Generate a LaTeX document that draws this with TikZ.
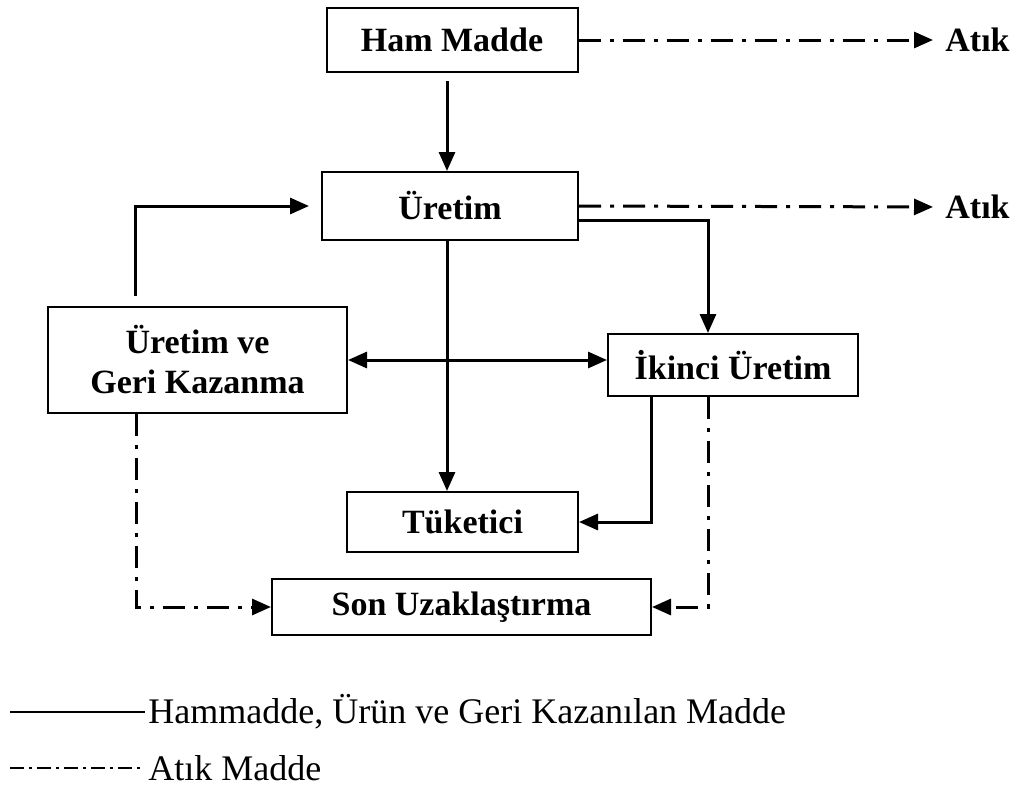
\documentclass[tikz,border=0pt]{standalone}
\usepackage{fontspec}
\setmainfont{Liberation Serif}
\usepackage{tikz}
\usetikzlibrary{positioning, calc, arrows.meta}
\tikzstyle{diagram} = [x = 0.5pt, y = -0.5pt]
\tikzstyle{boxStyle} = [draw, line width = 1pt, inner sep = 0pt, align = center, font = \fontsize{17}{20}\selectfont\bfseries]
\tikzstyle{flowLine} = [line width = 1.5pt, -{Triangle[length = 9.5pt, width = 8pt]}]
\tikzstyle{bothLine} = [line width = 1.5pt, {Triangle[length = 9.5pt, width = 8pt]}-{Triangle[length = 9.5pt, width = 8pt]}]
\tikzstyle{wasteLine} = [line width = 1.5pt, dash pattern = on 11pt off 4.5pt on 2pt off 4.5pt, -{Triangle[length = 9.5pt, width = 8pt]}]
\tikzstyle{wasteText} = [font = \fontsize{17}{20}\selectfont\bfseries, inner sep = 0pt]
\tikzstyle{legendText} = [font = \fontsize{18}{20}\selectfont, inner sep = 0pt, anchor = west]

\begin{document}
\begin{tikzpicture}[diagram]
  \useasboundingbox (0,0) rectangle (1013,787);

  % boxes
  \node [boxStyle, minimum width = 125.5pt, minimum height = 32pt] (hamMadde) at (452,40) {Ham Madde};
  \node [boxStyle, minimum width = 128pt, minimum height = 34pt] (uretim) at (450,206) {Üretim};
  \node [boxStyle, minimum width = 149.5pt, minimum height = 53pt] (uretimGeri) at (197.5,360) {Üretim ve\\Geri Kazanma};
  \node [boxStyle, minimum width = 125pt, minimum height = 31pt] (ikinci) at (733,365) {İkinci Üretim};
  \node [boxStyle, minimum width = 115.5pt, minimum height = 30pt] (tuketici) at (462.5,522) {Tüketici};
  \node [boxStyle, minimum width = 189.5pt, minimum height = 28pt] (son) at (461.5,607) {Son Uzaklaştırma};
  \node [wasteText, anchor = west] (atikBir) at (945,40) {Atık};
  \node [wasteText, anchor = west] (atikIki) at (945,207) {Atık};

  % flows
  \draw [flowLine, shorten <= 4pt] (hamMadde.south -| 447,0) -- (uretim.north -| 447,0);
  \draw [flowLine] ($(uretim.east)+(0,14)$) -| (ikinci.north -| 708,0);
  \draw [flowLine] (uretim.south -| 447,0) -- (tuketici.north -| 447,0);
  \draw [flowLine, shorten <= 5pt, shorten >= 6pt] (uretimGeri.north -| 135,0) |- (uretim.west);
  \draw [bothLine] (uretimGeri.east) -- (uretimGeri.east -| ikinci.west);
  \draw [flowLine] (ikinci.south -| 651,0) |- (tuketici.east);

  % waste
  \draw [wasteLine, shorten >= 6pt] (hamMadde.east) -- (atikBir.west);
  \draw [wasteLine, shorten >= 6pt] (uretim.east) -- (atikIki.west);
  \draw [wasteLine] (uretimGeri.south -| 136,0) |- (son.west);
  \draw [wasteLine] (ikinci.south -| 708,0) |- (son.east);

  % legend
  \coordinate (legendA) at (10,712);
  \coordinate (legendB) at (10,768);
  \node [legendText] (legendSolid) at (148,712) {Hammadde, Ürün ve Geri Kazanılan Madde};
  \node [legendText] (legendWaste) at (148,768) {Atık Madde};
  \draw [line width = 0.8pt] (legendA) -- ($(legendSolid.west)+(-3,0)$);
  \draw [line width = 0.8pt, dash pattern = on 7pt off 2.5pt on 1.5pt off 2.5pt] (legendB) -- ($(legendWaste.west)+(-3,0)$);
\end{tikzpicture}
\end{document}
